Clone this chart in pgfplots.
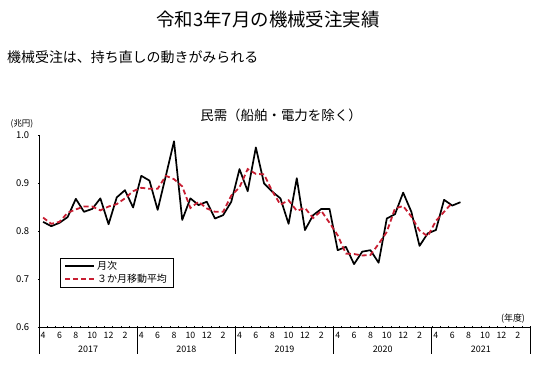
\documentclass[border=0pt]{standalone}
\usepackage{pgfplots}
\pgfplotsset{compat=1.18}
\usepackage{fontspec}
\setmainfont{Noto Sans CJK JP}
\definecolor{madred}{RGB}{200,30,50}
\begin{document}
\begin{tikzpicture}[x=1bp,y=1bp]
\path[use as bounding box] (0,0) rectangle (536,381);
\node at (268,362) {\fontsize{18.5}{22}\selectfont 令和3年7月の機械受注実績};
\node[anchor=west,inner sep=0pt] at (7,324) {\fontsize{14}{17}\selectfont 機械受注は、持ち直しの動きがみられる};
\node at (281,266) {\fontsize{13.5}{16}\selectfont 民需（船舶・電力を除く）};
\node at (22,257) {\fontsize{8.5}{10}\selectfont (兆円)};
\node at (513,62) {\fontsize{9}{10}\selectfont (年度)};
\begin{axis}[
  at={(39bp,54bp)}, anchor=south west,
  scale only axis, width=491bp, height=192bp,
  xmin=0, xmax=60, ymin=0.6, ymax=1.0,
  axis x line=bottom, axis y line=left, axis line style={-, line width=0.9bp},
  xtick={0,...,60},
  xticklabels={4,,6,,8,,10,,12,,2,,4,,6,,8,,10,,12,,2,,4,,6,,8,,10,,12,,2,,4,,6,,8,,10,,12,,2,,4,,6,,8,,10,,12,,2,,},
  x tick label style={xshift=4.1bp, font=\fontsize{8.8}{10}\selectfont},
  ytick={0.6,0.7,0.8,0.9,1.0},
  y tick label style={font=\fontsize{9.5}{11}\selectfont, xshift=-5bp,
    /pgf/number format/fixed, /pgf/number format/fixed zerofill, /pgf/number format/precision=1},
  /pgf/number format/assume math mode=true,
  tick align=center, major tick length=2.5bp,
  tick style={black, line width=0.6bp},
  clip=false,
  legend style={at={(axis description cs:0.0428,0.36)}, anchor=north west,
    draw=black, font=\fontsize{10}{12}\selectfont,
    inner xsep=4bp, inner ysep=1.5bp, row sep=-1.5bp},
  legend cell align=left,
]
\addplot[black, line width=1.7bp, line join=round,
  legend image code/.code={\draw[black, line width=2bp] (0bp,0bp) -- (29bp,0bp);}] coordinates {
(0.5,0.819) (1.5,0.810) (2.5,0.817) (3.5,0.829) (4.5,0.867) (5.5,0.840)
(6.5,0.846) (7.5,0.868) (8.5,0.814) (9.5,0.870) (10.5,0.885) (11.5,0.849)
(12.5,0.915) (13.5,0.905) (14.5,0.844) (15.5,0.915) (16.5,0.987) (17.5,0.823)
(18.5,0.868) (19.5,0.854) (20.5,0.861) (21.5,0.826) (22.5,0.833) (23.5,0.861)
(24.5,0.929) (25.5,0.883) (26.5,0.974) (27.5,0.899) (28.5,0.882) (29.5,0.868)
(30.5,0.815) (31.5,0.910) (32.5,0.802) (33.5,0.833) (34.5,0.846) (35.5,0.846)
(36.5,0.760) (37.5,0.767) (38.5,0.731) (39.5,0.757) (40.5,0.760) (41.5,0.734)
(42.5,0.826) (43.5,0.835) (44.5,0.880) (45.5,0.840) (46.5,0.769) (47.5,0.795)
(48.5,0.802) (49.5,0.865) (50.5,0.853) (51.5,0.860)
};
\addlegendentry{月次}
\addplot[madred, line width=1.8bp, dash pattern=on 5bp off 3bp,
  legend image code/.code={\draw[madred, line width=1.8bp, dash pattern=on 5bp off 3bp] (0bp,0bp) -- (29bp,0bp);}] coordinates {
(0.5,0.828) (1.5,0.815) (2.5,0.819) (3.5,0.838) (4.5,0.845) (5.5,0.851)
(6.5,0.851) (7.5,0.843) (8.5,0.851) (9.5,0.856) (10.5,0.868) (11.5,0.883)
(12.5,0.890) (13.5,0.888) (14.5,0.888) (15.5,0.915) (16.5,0.908) (17.5,0.893)
(18.5,0.848) (19.5,0.861) (20.5,0.847) (21.5,0.840) (22.5,0.840) (23.5,0.874)
(24.5,0.891) (25.5,0.929) (26.5,0.919) (27.5,0.918) (28.5,0.883) (29.5,0.855)
(30.5,0.864) (31.5,0.842) (32.5,0.848) (33.5,0.827) (34.5,0.842) (35.5,0.817)
(36.5,0.791) (37.5,0.753) (38.5,0.752) (39.5,0.749) (40.5,0.750) (41.5,0.773)
(42.5,0.798) (43.5,0.847) (44.5,0.852) (45.5,0.830) (46.5,0.801) (47.5,0.789)
(48.5,0.821) (49.5,0.840) (50.5,0.859)
};
\addlegendentry{３か月移動平均}
\pgfplotsinvokeforeach{0,12,24,36,48,60}{
  \draw[black, line width=0.9bp] (axis cs:#1,0.6) -- ([yshift=-27bp]axis cs:#1,0.6);
}
\node[font=\fontsize{9}{10}\selectfont] at ([yshift=-22bp]axis cs:6,0.6) {2017};
\node[font=\fontsize{9}{10}\selectfont] at ([yshift=-22bp]axis cs:18,0.6) {2018};
\node[font=\fontsize{9}{10}\selectfont] at ([yshift=-22bp]axis cs:30,0.6) {2019};
\node[font=\fontsize{9}{10}\selectfont] at ([yshift=-22bp]axis cs:42,0.6) {2020};
\node[font=\fontsize{9}{10}\selectfont] at ([yshift=-22bp]axis cs:54,0.6) {2021};
\end{axis}
\end{tikzpicture}
\end{document}
